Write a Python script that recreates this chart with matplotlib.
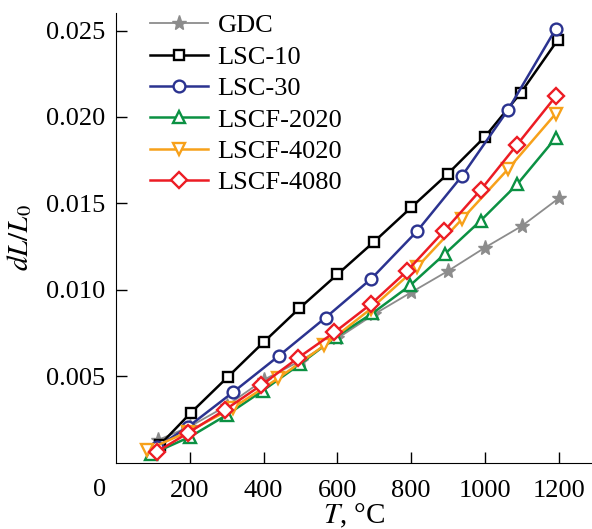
import matplotlib
matplotlib.use('Agg')
import matplotlib.pyplot as plt

plt.rcParams['font.family'] = ['Liberation Serif', 'DejaVu Serif']
plt.rcParams['mathtext.fontset'] = 'stix'
plt.rcParams['font.size'] = 19

# data
t_gdc = [115, 200, 300, 400, 500, 600, 700, 800, 900, 1000, 1100, 1200]
y_gdc = [0.00133, 0.0021, 0.0033, 0.0048, 0.0059, 0.0072, 0.0086, 0.00986, 0.0111, 0.01245, 0.0137, 0.0153]

t_lsc10 = [119, 202, 303, 400, 497, 600, 700, 800, 900, 1000, 1097, 1197]
y_lsc10 = [0.00104, 0.00288, 0.00497, 0.00698, 0.00894, 0.0109, 0.0128, 0.01477, 0.01673, 0.01886, 0.0214, 0.02445]

t_lsc30 = [110, 195, 318, 442, 568, 692, 816, 938, 1062, 1192]
y_lsc30 = [0.0009, 0.00208, 0.0041, 0.0062, 0.0084, 0.01065, 0.0134, 0.0166, 0.0204, 0.0251]

t_2020 = [95, 200, 300, 398, 498, 595, 695, 797, 892, 988, 1087, 1192]
y_2020 = [0.0005, 0.0015, 0.00277, 0.00418, 0.0057, 0.00727, 0.00865, 0.01026, 0.0121, 0.0140, 0.0161, 0.0188]

t_4020 = [84, 195, 318, 440, 565, 690, 815, 938, 1063, 1192]
y_4020 = [0.00075, 0.0018, 0.0032, 0.0049, 0.0068, 0.0089, 0.0113, 0.0141, 0.0170, 0.0202]

t_4080 = [110, 195, 295, 394, 492, 592, 692, 789, 889, 989, 1087, 1192]
y_4080 = [0.00063, 0.00173, 0.00306, 0.0045, 0.00605, 0.00755, 0.0092, 0.0111, 0.0134, 0.0158, 0.0184, 0.0212]

fig = plt.figure(figsize=(5.92, 5.29), dpi=100)
ax = fig.add_axes([0.196, 0.125, 0.804, 0.85])

lw = 1.8
mew = 1.7
ax.plot(t_gdc, y_gdc, color='#8c8c8c', lw=1.3, marker='*', ms=11, mfc='#8c8c8c', mec='#8c8c8c', label='GDC')
ax.plot(t_lsc10, y_lsc10, color='black', lw=lw, marker='s', ms=7.5, mfc='white', mew=mew, label='LSC-10')
ax.plot(t_lsc30, y_lsc30, color='#2b3390', lw=lw, marker='o', ms=8.5, mfc='white', mew=mew, label='LSC-30')
ax.plot(t_2020, y_2020, color='#0b9143', lw=lw, marker='^', ms=9, mfc='white', mew=mew, label='LSCF-2020')
ax.plot(t_4020, y_4020, color='#f7a11a', lw=lw, marker='v', ms=9, mfc='white', mew=mew, label='LSCF-4020')
ax.plot(t_4080, y_4080, color='#ec1c24', lw=lw, marker='D', ms=8, mfc='white', mew=mew, label='LSCF-4080')

ax.set_xlim(0, 1290)
ax.set_ylim(0, 0.026)
ax.set_xticks([200, 400, 600, 800, 1000, 1200])
ax.set_yticks([0.005, 0.010, 0.015, 0.020, 0.025])
ax.set_yticklabels(['0.005', '0.010', '0.015', '0.020', '0.025'])
ax.tick_params(direction='in', length=8, width=1)
ax.tick_params(axis='y', pad=8)
ax.tick_params(axis='x', pad=12)
ax.spines['top'].set_visible(False)
ax.spines['right'].set_visible(False)
ax.text(-0.02, -0.06, '0', transform=ax.transAxes, ha='right', va='center')

ax.set_xlabel(r'$T$, °C', fontsize=21, labelpad=0)
ax.set_ylabel(r'$dL/L_0$', fontsize=21, labelpad=8)

ax.legend(loc='upper left', bbox_to_anchor=(0.05, 1.022), frameon=False,
          handlelength=2.2, handletextpad=0.35, labelspacing=0.3, borderaxespad=0)

plt.savefig('out.png', dpi=100)
